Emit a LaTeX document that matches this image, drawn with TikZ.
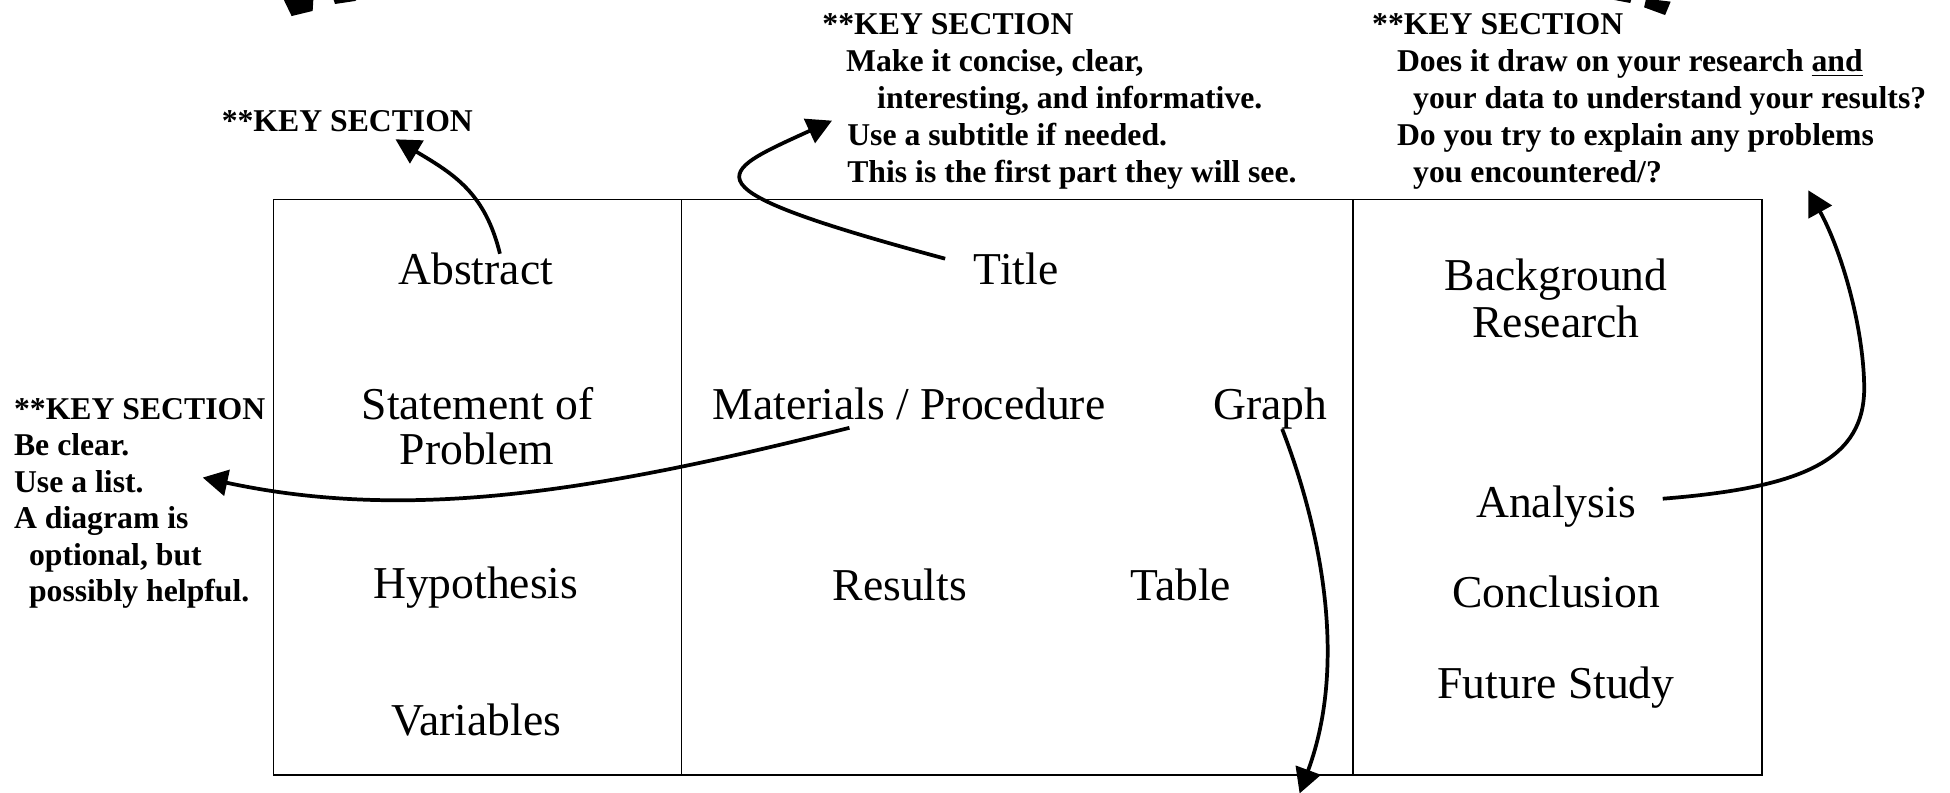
\documentclass[tikz,border=0pt]{standalone}
\usepackage{fontspec}
\setmainfont{Liberation Serif}
\usetikzlibrary{arrows.meta}
\begin{document}
\begin{tikzpicture}[x=0.6pt,y=-0.6pt,
  lbl/.style={font=\fontsize{22}{22}\selectfont, inner sep=0pt, anchor=base},
  note/.style={font=\bfseries\fontsize{15.3}{18}\selectfont, inner sep=0pt, anchor=base west},
  conn/.style={line width=1.8pt, -{Triangle[length=12pt,width=12.6pt]}},
  frame/.style={line width=0.8pt},
  shard/.style={fill=black, draw=none}]
\useasboundingbox (0,0) rectangle (1568,637);

% frame and dividers
\draw[frame] (220,160.3) rectangle (1417,623);
\draw[frame] (548,160.3) -- (548,623);
\draw[frame] (1088,160.3) -- (1088,623);

% labels in the box
\node[lbl] (abstract) at (382.5,229) {Abstract};
\node[lbl] (stmt1) at (384,337) {Statement of};
\node[lbl] (stmt2) at (383.5,373.5) {Problem};
\node[lbl] (hypo) at (382.5,481.5) {Hypothesis};
\node[lbl] (vars) at (383,591.5) {Variables};
\node[lbl] (title) at (817,229) {Title};
\node[lbl] (mat) at (731,337) {Materials / Procedure};
\node[lbl] (graph) at (1021.5,337) {Graph};
\node[lbl] (results) at (723.5,483) {Results};
\node[lbl] (table) at (949.4,483) {Table};
\node[lbl] (bg1) at (1251.2,233.5) {Background};
\node[lbl] (bg2) at (1251.2,271) {Research};
\node[lbl] (analysis) at (1251.2,416) {Analysis};
\node[lbl] (concl) at (1251.2,488.5) {Conclusion};
\node[lbl] (future) at (1251.2,561.5) {Future Study};

% notes
\node[note] (kab) at (178,105.5) {**KEY SECTION};

\node[note] (kti) at (661,28) {**KEY SECTION};
\node[note] (kti1) at (680,57.7) {Make it concise, clear,};
\node[note] (kti2) at (705,87.4) {interesting, and informative.};
\node[note] (kti3) at (681,117.1) {Use a subtitle if needed.};
\node[note] (kti4) at (681,146.8) {This is the first part they will see.};

\node[note] (kan) at (1103,28) {**KEY SECTION};
\node[note] (kan1) at (1123,57.7) {Does it draw on your research \underline{and}};
\node[note] (kan2) at (1136,87.4) {your data to understand your results?};
\node[note] (kan3) at (1123,117.1) {Do you try to explain any problems};
\node[note] (kan4) at (1136,146.8) {you encountered/?};

\node[note] (kmp) at (11,337.3) {**KEY SECTION};
\node[note] (kmp1) at (11,366.6) {Be clear.};
\node[note] (kmp2) at (11,395.9) {Use a list.};
\node[note] (kmp3) at (11,425.2) {A diagram is};
\node[note] (kmp4) at (23,454.5) {optional, but};
\node[note] (kmp5) at (23,483.8) {possibly helpful.};

% connector end points
\coordinate (abs-out) at (402,204);
\coordinate (abs-in) at (318,112);
\coordinate (ti-out) at (760,208);
\coordinate (ti-in) at (669,97);
\coordinate (mat-out) at (683,344);
\coordinate (mat-in) at (163,384);
\coordinate (gr-out) at (1031,345);
\coordinate (gr-in) at (1045,638);
\coordinate (an-out) at (1337,401);
\coordinate (an-mid) at (1499,310);
\coordinate (an-in) at (1454,153);

\draw[conn] (abs-out) .. controls (390,155) and (365,140) .. (abs-in);
\draw[conn] (ti-out) .. controls (545,150) and (575,140) .. (ti-in);
\draw[conn] (mat-out) .. controls (480,395) and (330,420) .. (mat-in);
\draw[conn] (gr-out) .. controls (1060,420) and (1085,530) .. (gr-in);
\draw[conn] (an-out) .. controls (1450,392) and (1500,370) .. (an-mid)
                     .. controls (1498,260) and (1480,200) .. (an-in);

% cut-off shapes at the top edge
\fill[shard] (227.8,-1) -- (252,-1) -- (251.4,8.8) -- (234.5,12.9) -- cycle;
\fill[shard] (268,-1) -- (288,-1) -- (285.5,0.8) -- (269.4,3.2) -- cycle;
\fill[shard] (1293,-1) -- (1312,-1) -- (1310.8,2.4) -- cycle;
\fill[shard] (1323.6,-1) -- (1343.4,1.3) -- (1338.9,12.1) -- (1322,5.9) -- cycle;
\end{tikzpicture}
\end{document}
